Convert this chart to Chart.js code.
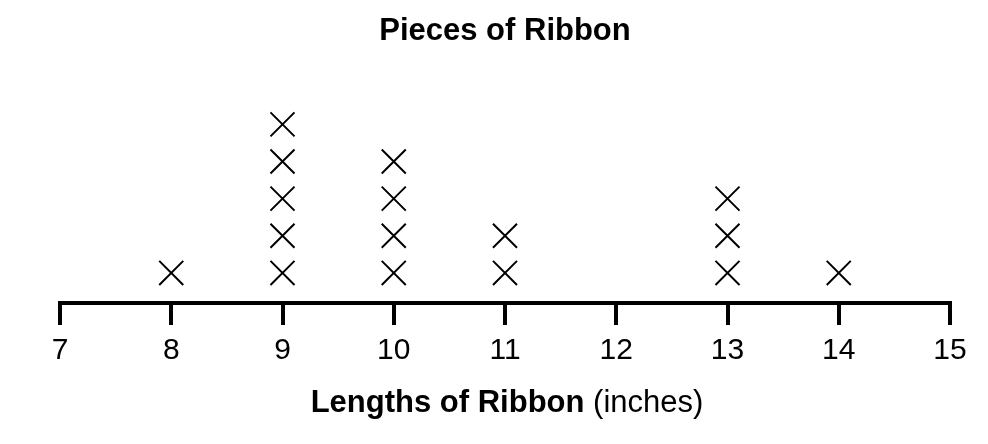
<!DOCTYPE html>
<html>
<head>
<meta charset="utf-8">
<script src="https://cdn.jsdelivr.net/npm/chart.js@4/dist/chart.umd.min.js"></script>
<style>
  html, body { margin: 0; padding: 0; background: #fff; }
  #wrap { width: 988px; height: 444px; }
</style>
</head>
<body>
<div id="wrap"><canvas id="ribbon_chart" width="988" height="444"></canvas></div>
<script>
const lengths = [8, 9, 10, 11, 12, 13, 14];
const counts = [1, 5, 4, 2, 0, 3, 1];
const tickValues = [7, 8, 9, 10, 11, 12, 13, 14, 15];

const FONT = '"Liberation Sans", Arial, Helvetica, sans-serif';

// one X per piece of ribbon, stacked upward
const marks = [];
lengths.forEach((len, i) => {
  for (let k = 1; k <= counts[i]; k++) marks.push({ x: len, y: k });
});

// axis title has a bold part and a plain part, so draw it by hand
const axisTitle = {
  id: 'axisTitle',
  afterDraw(chart) {
    const { ctx, chartArea } = chart;
    const boldPart = 'Lengths of Ribbon';
    const plainPart = ' (inches)';
    ctx.save();
    ctx.fillStyle = '#000';
    ctx.textBaseline = 'middle';
    ctx.font = 'bold 31px ' + FONT;
    const w1 = ctx.measureText(boldPart).width;
    ctx.font = '31px ' + FONT;
    const w2 = ctx.measureText(plainPart).width;
    const cx = (chartArea.left + chartArea.right) / 2 + 2;
    const y = 403;
    let x = cx - (w1 + w2) / 2;
    ctx.textAlign = 'left';
    ctx.font = 'bold 31px ' + FONT;
    ctx.fillText(boldPart, x, y);
    ctx.font = '31px ' + FONT;
    ctx.fillText(plainPart, x + w1, y);
    ctx.restore();
  }
};

const chart = new Chart(document.getElementById('ribbon_chart').getContext('2d'), {
  type: 'scatter',
  data: {
    datasets: [{
      data: marks,
      pointStyle: 'crossRot',
      pointRadius: 17,
      pointHoverRadius: 17,
      borderColor: '#000',
      borderWidth: 2,
      backgroundColor: '#000',
    }],
  },
  options: {
    responsive: false,
    animation: false,
    events: [],
    layout: { padding: { left: 60, right: 38, top: 0, bottom: 67 } },
    plugins: {
      legend: { display: false },
      tooltip: { enabled: false },
      title: {
        display: true,
        text: 'Pieces of Ribbon',
        color: '#000',
        font: { family: FONT, size: 31, weight: 'bold' },
        padding: { top: 13, bottom: 40 },
      },
    },
    scales: {
      x: {
        type: 'linear',
        min: 7,
        max: 15,
        afterBuildTicks: (scale) => { scale.ticks = tickValues.map((v) => ({ value: v })); },
        ticks: {
          color: '#000',
          padding: 8,
          maxRotation: 0,
          font: { family: FONT, size: 30 },
        },
        grid: {
          drawOnChartArea: false,
          drawTicks: true,
          tickLength: 22,
          lineWidth: 4,
          color: '#000',
        },
        border: { display: true, width: 4, color: '#000' },
      },
      y: {
        display: false,
        min: 0.19,
        max: 5.92,
      },
    },
  },
  plugins: [axisTitle],
});
</script>
</body>
</html>
